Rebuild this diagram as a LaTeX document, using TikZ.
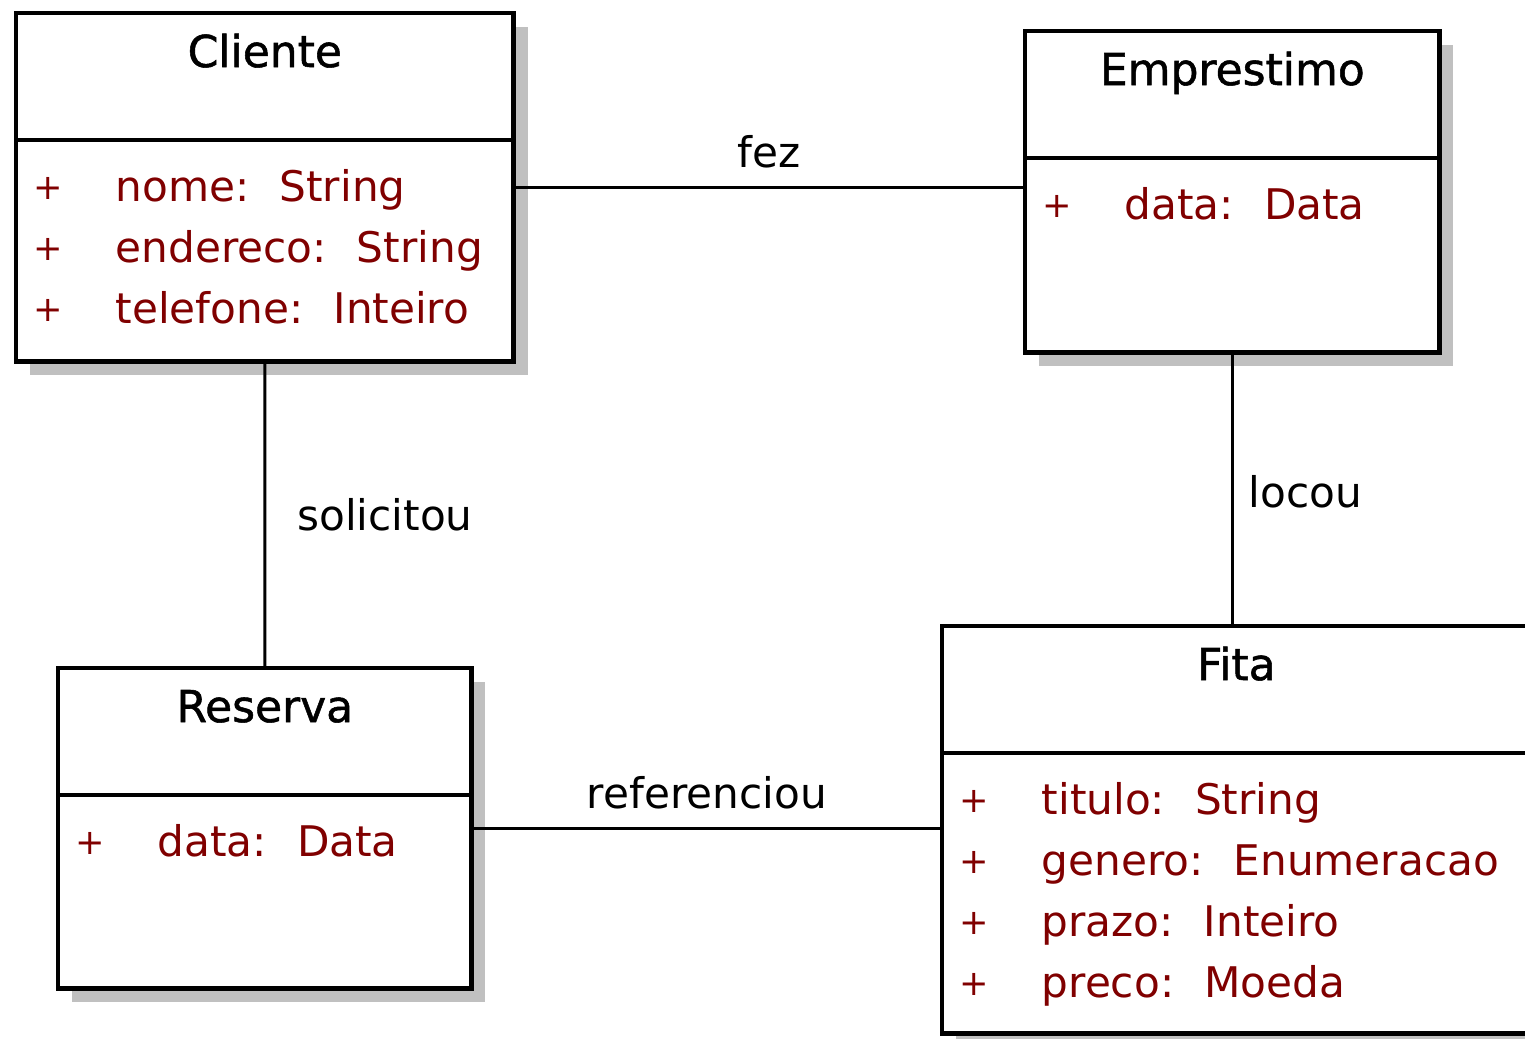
\documentclass[tikz,border=0pt]{standalone}
\usepackage{fontspec}
\setmainfont{DejaVu Sans}
\newfontfamily\titlefont[RawFeature={embolden=1.2}]{DejaVu Sans}
\usetikzlibrary{positioning,shadows}

\definecolor{attrred}{RGB}{128,0,0}
\definecolor{shadowgray}{RGB}{192,192,192}

\newcommand{\attrgap}{\hspace{0.3cm}}

\tikzset{
	classbox/.style={draw, line width=1.25pt, fill=white, anchor=north west, inner sep=0pt,
		drop shadow={shadow xshift=0.14cm, shadow yshift=-0.14cm, fill=shadowgray, opacity=1}},
	classname/.style={anchor=base, inner sep=0pt, font=\titlefont\fontsize{12.5}{15}\selectfont},
	attrsign/.style={anchor=base, inner sep=0pt, text=attrred, font=\fontsize{10}{12}\selectfont},
	attrtext/.style={anchor=base west, inner sep=0pt, text=attrred, font=\fontsize{12}{14}\selectfont},
	divider/.style={line width=1.25pt},
	assoc/.style={line width=0.85pt},
	assoclabel/.style={inner sep=0pt, font=\fontsize{12}{14}\selectfont},
}

\begin{document}
\begin{tikzpicture}[x=0.01cm, y=-0.01cm]
	\useasboundingbox[fill=white] (0,0) rectangle (1525,1038);

	% classes
	\node[classbox, minimum width=4.97cm, minimum height=3.48cm] (cliente) at (14,11) {};
	\node[classbox, minimum width=4.14cm, minimum height=3.21cm] (emprestimo) at (1023,29) {};
	\node[classbox, minimum width=4.13cm, minimum height=3.2cm] (reserva) at (56,666) {};
	\node[classbox, minimum width=5.88cm, minimum height=4.07cm] (fita) at (940,624) {};

	\node[classname] (cliente-name) at ([yshift=-0.56cm]cliente.north) {Cliente};
	\node[classname] (emprestimo-name) at ([yshift=-0.56cm]emprestimo.north) {Emprestimo};
	\node[classname] (reserva-name) at ([yshift=-0.56cm]reserva.north) {Reserva};
	\node[classname] (fita-name) at ([yshift=-0.56cm]fita.north) {Fita};

	\draw[divider] ([yshift=-1.29cm]cliente.north west) -- ([yshift=-1.29cm]cliente.north east);
	\draw[divider] ([yshift=-1.29cm]emprestimo.north west) -- ([yshift=-1.29cm]emprestimo.north east);
	\draw[divider] ([yshift=-1.29cm]reserva.north west) -- ([yshift=-1.29cm]reserva.north east);
	\draw[divider] ([yshift=-1.29cm]fita.north west) -- ([yshift=-1.29cm]fita.north east);

	% attributes
	\node[attrsign] (cliente-s1) at ([xshift=0.34cm, yshift=-1.88cm]cliente.north west) {+};
	\node[attrsign] (cliente-s2) at ([xshift=0.34cm, yshift=-2.49cm]cliente.north west) {+};
	\node[attrsign] (cliente-s3) at ([xshift=0.34cm, yshift=-3.1cm]cliente.north west) {+};
	\node[attrtext] (cliente-a1) at ([xshift=1.01cm, yshift=-1.9cm]cliente.north west) {nome:\attrgap String};
	\node[attrtext] (cliente-a2) at ([xshift=1.01cm, yshift=-2.51cm]cliente.north west) {endereco:\attrgap String};
	\node[attrtext] (cliente-a3) at ([xshift=1.01cm, yshift=-3.12cm]cliente.north west) {telefone:\attrgap Inteiro};

	\node[attrsign] (emprestimo-s1) at ([xshift=0.34cm, yshift=-1.88cm]emprestimo.north west) {+};
	\node[attrtext] (emprestimo-a1) at ([xshift=1.01cm, yshift=-1.9cm]emprestimo.north west) {data:\attrgap Data};

	\node[attrsign] (reserva-s1) at ([xshift=0.34cm, yshift=-1.88cm]reserva.north west) {+};
	\node[attrtext] (reserva-a1) at ([xshift=1.01cm, yshift=-1.9cm]reserva.north west) {data:\attrgap Data};

	\node[attrsign] (fita-s1) at ([xshift=0.34cm, yshift=-1.88cm]fita.north west) {+};
	\node[attrsign] (fita-s2) at ([xshift=0.34cm, yshift=-2.49cm]fita.north west) {+};
	\node[attrsign] (fita-s3) at ([xshift=0.34cm, yshift=-3.1cm]fita.north west) {+};
	\node[attrsign] (fita-s4) at ([xshift=0.34cm, yshift=-3.71cm]fita.north west) {+};
	\node[attrtext] (fita-a1) at ([xshift=1.01cm, yshift=-1.9cm]fita.north west) {titulo:\attrgap String};
	\node[attrtext] (fita-a2) at ([xshift=1.01cm, yshift=-2.51cm]fita.north west) {genero:\attrgap Enumeracao};
	\node[attrtext] (fita-a3) at ([xshift=1.01cm, yshift=-3.12cm]fita.north west) {prazo:\attrgap Inteiro};
	\node[attrtext] (fita-a4) at ([xshift=1.01cm, yshift=-3.73cm]fita.north west) {preco:\attrgap Moeda};

	% associations
	\draw[assoc] (cliente.east) -- node[assoclabel, anchor=base, yshift=0.2cm] (fez) {fez} (cliente.east -| emprestimo.west);
	\draw[assoc] (cliente.south) -- node[assoclabel, anchor=base west, xshift=0.31cm, yshift=-0.16cm] (solicitou) {solicitou} (reserva.north);
	\draw[assoc] (emprestimo.south) -- node[assoclabel, anchor=base west, xshift=0.15cm, yshift=-0.18cm] (locou) {locou} (emprestimo.south |- fita.north);
	\draw[assoc] (reserva.east) -- node[assoclabel, anchor=base, yshift=0.2cm] (referenciou) {referenciou} (reserva.east -| fita.west);

\end{tikzpicture}
\end{document}
